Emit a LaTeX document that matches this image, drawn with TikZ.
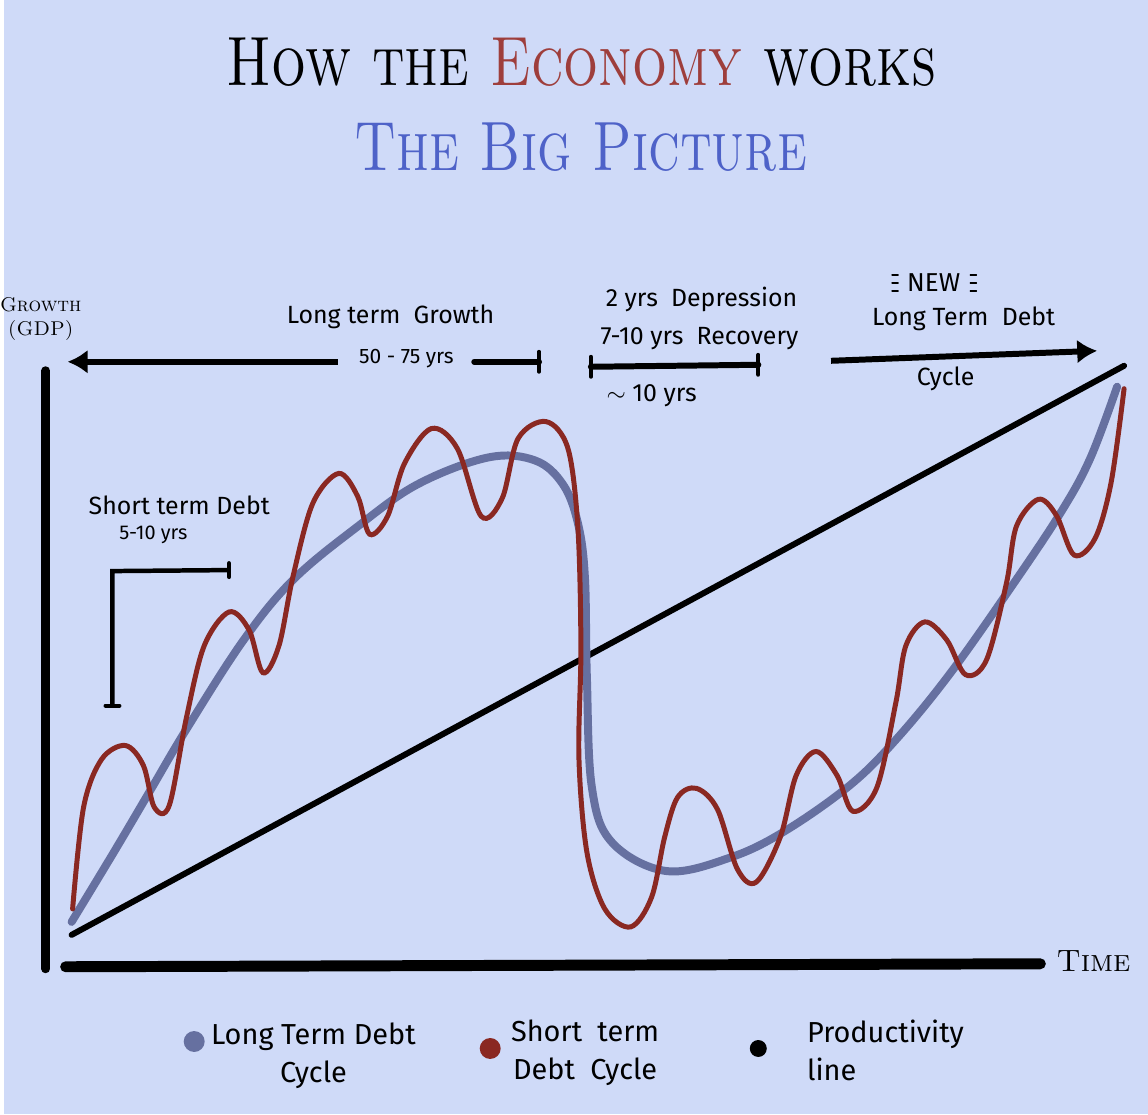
\documentclass[tikz,border=0pt]{standalone}
\usepackage{fontspec}
\newfontfamily\handfont{Fira Sans}
\usetikzlibrary{shapes,arrows,arrows.meta,positioning,calc}

\definecolor{bgcol}{RGB}{207,218,248}
\definecolor{econred}{RGB}{158,62,60}
\definecolor{bigblue}{RGB}{78,98,200}
\definecolor{longcol}{RGB}{102,112,160}
\definecolor{shortcol}{RGB}{138,40,34}

\begin{document}
\begin{tikzpicture}[
    x=1pt, y=-1pt,
    titletext/.style={inner sep=0pt, font=\fontsize{70}{76}\selectfont\scshape},
    axislabel/.style={inner sep=0pt, font=\fontsize{20}{24}\selectfont\scshape, align=center},
    hand/.style={inner sep=0pt, font=\handfont\fontsize{25}{36}\selectfont, align=center},
    legendtext/.style={hand, font=\handfont\fontsize{29}{38}\selectfont},
    axis/.style={draw, line width=9pt, line cap=round},
    span/.style={draw, line width=6pt, line cap=round},
    tickbar/.style={draw, line width=4pt, line cap=round},
    line/.style={draw, -{Latex[length=20pt, width=24pt]}, line width=6pt},
    dot/.style={circle, inner sep=0pt, minimum size=21pt}
]

% background and frame
\path [fill=bgcol] (0,0) rectangle (1148,1118);

% titles
\node [titletext] (title) at (580,62) {\scalebox{0.79}[1]{How the \textcolor{econred}{Economy} works}};
\node [titletext, text=bigblue] (subtitle) at (579,148) {\scalebox{0.77}[1]{The Big Picture}};

% axes
\coordinate (ytop) at (42,372);
\coordinate (origin) at (42,972);
\coordinate (xleft) at (62,970);
\coordinate (xright) at (1040,967);
\path [axis] (ytop) -- (origin);
\path [axis, line width=11pt] (xleft) -- (xright);
\node [axislabel] (growth) at (37,320) {Growth\\(GDP)};
\node [axislabel, font=\fontsize{31}{34}\selectfont\scshape, right=16pt of xright, yshift=3pt] (time) {Time};

% productivity line
\coordinate (prodstart) at (68,938);
\coordinate (prodend) at (1124,367);
\path [draw, line width=6pt, line cap=round] (prodstart) -- (prodend);

% long term debt cycle
\draw [longcol, line width=8pt, line cap=round] plot [smooth, tension=0.6] coordinates {
    (68,925) (111,854) (147,793) (183,732) (240,643) (290,582) (354,529)
    (415,486) (486,459) (533,462) (561,486) (576,525) (583,579) (585,680)
    (590,790) (610,845) (665,874) (730,860) (785,833) (850,787) (897,740)
    (950,675) (1010,590) (1060,515) (1090,460) (1117,388)};

% short term debt cycle
\draw [shortcol, line width=5pt, line cap=round] plot [smooth, tension=0.55] coordinates {
    (69,912) (80,810) (98,762) (122,748) (140,768) (151,810) (166,808)
    (183,721) (201,648) (226,614) (246,632) (260,675) (276,648) (290,579)
    (310,505) (336,475) (355,498) (367,536) (385,518) (402,465) (429,430)
    (455,450) (479,518) (500,500) (516,440) (544,423) (566,450) (576,530)
    (579,650) (577,760) (585,855) (603,912) (629,930) (650,900) (663,840)
    (676,800) (695,791) (716,812) (736,872) (755,885) (779,840) (795,778)
    (815,754) (836,778) (852,814) (876,790) (895,705) (905,648) (924,624)
    (946,642) (965,677) (986,662) (1006,585) (1016,528) (1038,501) (1056,517)
    (1074,557) (1095,540) (1111,484) (1124,390)};

% long term growth span
\node [hand] (ltgrowth) at (388,318) {Long term \ Growth};
\node [hand, font=\handfont\fontsize{21}{24}\selectfont] (ltyears) at (404,360) {50 - 75 yrs};
\coordinate (ltarrowstart) at (335,363);
\coordinate (ltarrowend) at (64,363);
\coordinate (ltbarstart) at (472,363);
\coordinate (ltbarend) at (537,363);
\path [line] (ltarrowstart) -- (ltarrowend);
\path [span] (ltbarstart) -- (ltbarend);
\path [tickbar] ([yshift=10pt]ltbarend) -- ([yshift=-10pt]ltbarend);

% depression and recovery span
\node [hand] (depression) at (700,300) {2 yrs \ Depression};
\node [hand] (recovery) at (698,340) {7-10 yrs \ Recovery};
\coordinate (recstart) at (589,368);
\coordinate (recend) at (757,366);
\path [span] (recstart) -- (recend);
\path [tickbar] ([yshift=10pt]recstart) -- ([yshift=-10pt]recstart);
\path [tickbar] ([yshift=10pt]recend) -- ([yshift=-10pt]recend);
\node [hand] (tenyears) at (650,397) {$\sim$ 10 yrs};

% new long term debt cycle
\node [hand, font=\handfont\fontsize{26}{30}\selectfont] (new) at (933,284) {NEW};
\foreach \dy in {-8,0,8} {
    \path [draw, line width=1.6pt, line cap=round] ([xshift=-15pt, yshift=\dy pt]new.west) -- ++(6,0);
    \path [draw, line width=1.6pt, line cap=round] ([xshift=10pt, yshift=\dy pt]new.east) -- ++(6,0);
}
\node [hand] (newdebt) at (963,320) {Long Term \ Debt};
\node [hand] (newcycle) at (945,380) {Cycle};
\coordinate (newstart) at (830,362);
\coordinate (newend) at (1097,352);
\path [line] (newstart) -- (newend);

% short term debt bracket
\node [hand] (stdebt) at (176,507) {Short term Debt};
\node [hand, font=\handfont\fontsize{20}{24}\selectfont] (styears) at (150,537) {5-10 yrs};
\coordinate (stbottom) at (109,708);
\coordinate (stcorner) at (109,573);
\coordinate (stright) at (226,572);
\path [draw, line width=4.5pt] (stbottom) -- (stcorner) -- (stright);
\path [tickbar] ([yshift=7pt]stright) -- ([yshift=-7pt]stright);
\path [tickbar] ([xshift=-7pt]stbottom) -- ([xshift=7pt]stbottom);

% legend
\node [dot, fill=longcol] (longdot) at (191,1045) {};
\node [legendtext, right=6pt of longdot, yshift=-14pt] (longleg) {Long Term Debt\\Cycle};
\node [dot, fill=shortcol] (shortdot) at (488,1052) {};
\node [legendtext, right=10pt of shortdot, yshift=-4pt] (shortleg) {Short \ term\\Debt \ Cycle};
\node [dot, fill=black, minimum size=17pt] (proddot) at (757,1052) {};
\node [legendtext, right=40pt of proddot, yshift=-2pt, align=left] (prodleg) {Productivity\\line};

\end{tikzpicture}
\end{document}
